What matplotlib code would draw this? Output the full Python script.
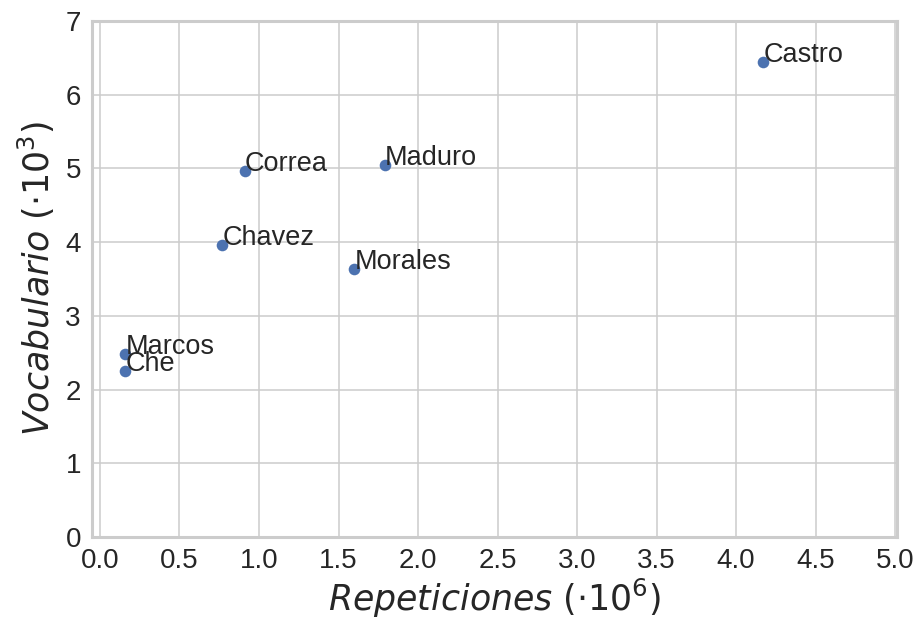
import matplotlib
matplotlib.use("Agg")
import matplotlib.pyplot as plt
import seaborn as sns

names = ["Castro", "Correa", "Maduro", "Chavez", "Morales", "Marcos", "Che"]
repeticiones = [4.17, 0.91, 1.79, 0.77, 1.60, 0.16, 0.16]
vocabulario = [6.44, 4.97, 5.04, 3.96, 3.64, 2.48, 2.25]
xticks = [0.0, 0.5, 1.0, 1.5, 2.0, 2.5, 3.0, 3.5, 4.0, 4.5, 5.0]
yticks = [0, 1, 2, 3, 4, 5, 6, 7]

sns.set_style("whitegrid")
plt.rcParams['font.family'] = ['Liberation Sans', 'DejaVu Sans']
plt.rcParams['mathtext.fontset'] = 'dejavusans'

fig = plt.figure(figsize=(9.2, 6.18), dpi=100)
ax = fig.add_axes([0.1, 0.1306, 0.8747, 0.8359])

ax.scatter(repeticiones, vocabulario, s=70, color="#4C72B0", zorder=3, linewidths=0)
for n, x, y in zip(names, repeticiones, vocabulario):
    ax.annotate(n, (x, y), fontsize=19.5, color="#262626", zorder=4)

ax.set_xlim(-0.05, 5.01)
ax.set_ylim(0, 6.97)
ax.set_xticks(xticks)
ax.set_xticklabels([f"{v:.1f}" for v in xticks])
ax.set_yticks(yticks)
ax.set_yticklabels([str(v) for v in yticks])
ax.tick_params(axis='both', labelsize=20, colors="#262626", pad=8, length=0)

ax.set_xlabel(r"$\it{Repeticiones}$ $(\cdot 10^6)$", fontsize=25, color="#262626",
              family="DejaVu Sans", labelpad=2)
ax.set_ylabel(r"$\it{Vocabulario}$ $(\cdot 10^3)$", fontsize=25, color="#262626",
              family="DejaVu Sans", labelpad=6)

for sp in ax.spines.values():
    sp.set_color("#cccccc")
    sp.set_linewidth(2.2)
ax.grid(True, color="#cccccc", linewidth=1.1)

fig.savefig("out.png", dpi=100)
